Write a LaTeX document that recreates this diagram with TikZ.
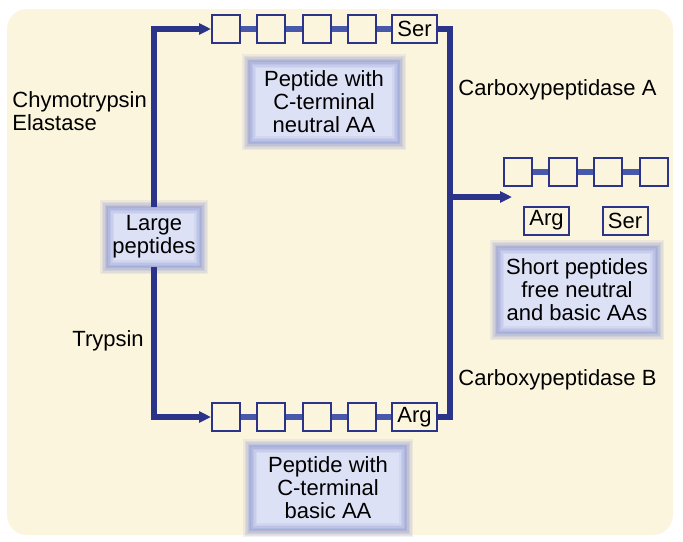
\documentclass[tikz,border=0pt]{standalone}
\usepackage{fontspec}
\setmainfont{Liberation Sans}
\usetikzlibrary{arrows.meta}
\definecolor{bgcream}{HTML}{FCF5DD}
\definecolor{navy}{HTML}{2B3488}
\definecolor{linkblue}{HTML}{4858AA}
\definecolor{boxfill}{HTML}{DDE1F5}
\definecolor{boxedge}{HTML}{8592CF}
\begin{document}
\begin{tikzpicture}[x=0.5pt, y=-0.5pt, every node/.style={font=\fontsize{11}{11.5}\selectfont},
  res/.style={draw=navy, line width=1pt, fill=bgcream, minimum width=14pt, minimum height=14pt, inner sep=0pt},
  endres/.style={res, minimum width=22.5pt},
  stage/.style={fill=boxfill, align=center, inner sep=0pt,
    postaction={draw=boxedge, line width=7pt, draw opacity=0.12},
    postaction={draw=boxedge, line width=5.5pt, draw opacity=0.14},
    postaction={draw=boxedge, line width=4pt, draw opacity=0.16},
    postaction={draw=boxedge, line width=2.5pt, draw opacity=0.2},
    postaction={draw=boxedge, line width=1pt, draw opacity=0.25}},
  enzyme/.style={inner sep=0pt, align=left},
  flow/.style={draw=navy, line width=2.6pt},
  link/.style={draw=linkblue, line width=2.6pt}]
  \useasboundingbox (0,0) rectangle (683,541);
  \fill[bgcream, rounded corners=10pt] (7,9) rectangle (673,535);

  \node[stage, minimum width=47pt, minimum height=30pt] (large) at (154,237) {Large\\peptides};
  \node[stage, minimum width=75pt, minimum height=41pt] (neutral) at (324,102) {Peptide with\\C-terminal\\neutral AA};
  \node[stage, minimum width=78pt, minimum height=42pt] (basic) at (328,488) {Peptide with\\C-terminal\\basic AA};
  \node[stage, minimum width=80pt, minimum height=43pt] (short) at (577,290) {Short peptides\\free neutral\\and basic AAs};

  \foreach \i/\x in {1/226,2/271,3/317,4/362} {
    \node[res] (t\i) at (\x,29) {};
    \node[res] (b\i) at (\x,417) {};
  }
  \node[endres] (tser) at (414.5,29) {Ser};
  \node[endres] (barg) at (414.5,417) {Arg};
  \foreach \i/\x in {1/518,2/563,3/608,4/654}
    \node[res] (r\i) at (\x,172) {};
  \node[endres] (farg) at (546.5,220.5) {Arg};
  \node[endres] (fser) at (625,220.5) {Ser};

  \foreach \a/\b in {t1/t2,t2/t3,t3/t4,t4/tser,b1/b2,b2/b3,b3/b4,b4/barg,r1/r2,r2/r3,r3/r4}
    \draw[link] (\a) -- (\b);

  \coordinate (join) at (450,197);
  \coordinate (prod) at (512,197);
  \draw[flow, -{Triangle[length=6pt,width=5.5pt]}] (large.north) |- (t1.west);
  \draw[flow, -{Triangle[length=6pt,width=5.5pt]}] (large.south) |- (b1.west);
  \draw[flow] (tser.east) -| (join);
  \draw[flow] (barg.east) -| (join);
  \draw[flow, -{Triangle[length=6pt,width=5.5pt]}] (join) -- (prod);

  \node[enzyme, anchor=west] (chymo) at (12,111) {Chymotrypsin\\Elastase};
  \node[enzyme, anchor=west] (tryp) at (72,341) {Trypsin};
  \node[enzyme, anchor=west] (cpa) at (458,90) {Carboxypeptidase A};
  \node[enzyme, anchor=west] (cpb) at (458,380) {Carboxypeptidase B};
\end{tikzpicture}
\end{document}
